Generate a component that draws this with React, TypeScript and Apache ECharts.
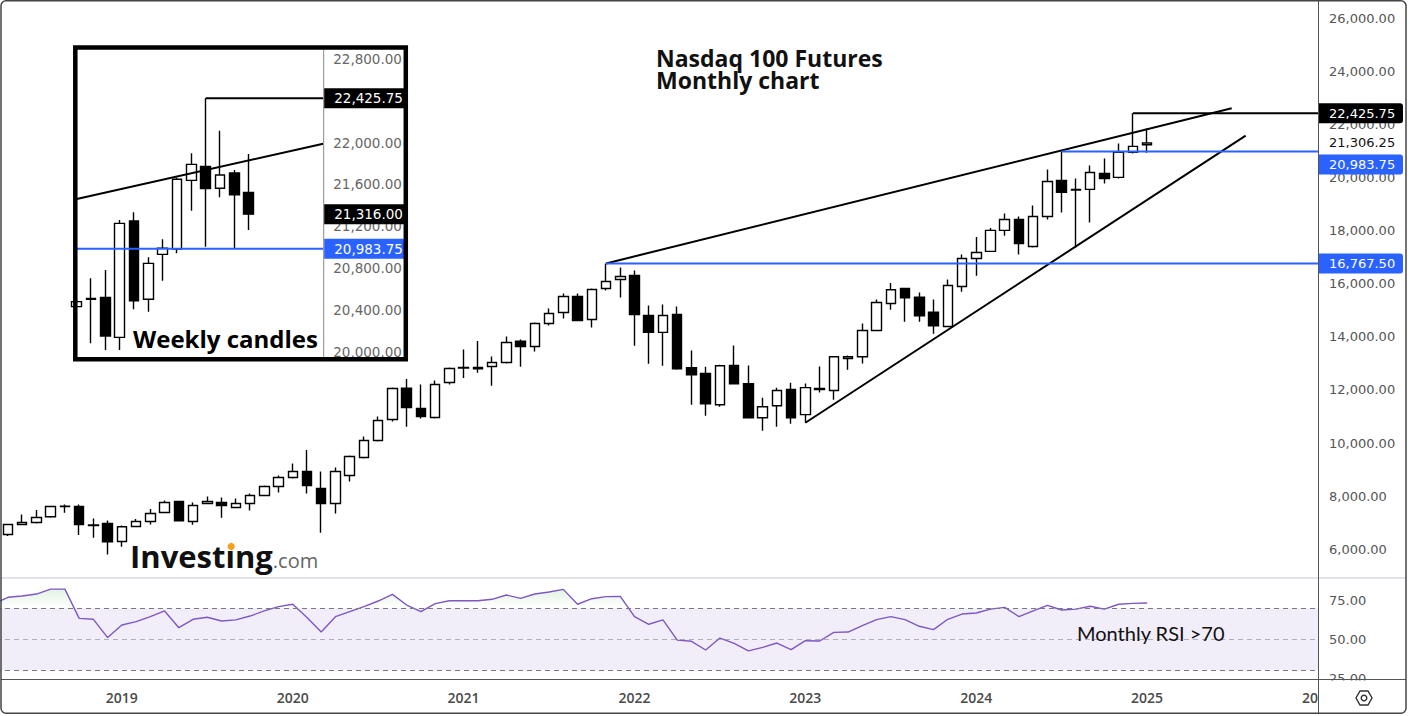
import React, { useEffect, useRef } from "react";
import * as echarts from "echarts";

// ---------------- DATA ----------------
const MM = ["01", "02", "03", "04", "05", "06", "07", "08", "09", "10", "11", "12"];
const months: string[] = [
  "2018-05", "2018-06", "2018-07", "2018-08", "2018-09", "2018-10", "2018-11", "2018-12",
  ...["2019", "2020", "2021", "2022", "2023", "2024"].flatMap((y) => MM.map((m) => `${y}-${m}`)),
  "2025-01",
];

const opens = [
  6556, 6933, 7009, 7222, 7611, 7611, 6910, 6971,
  6293, 6858, 7046, 7385, 7800, 7046, 7725, 7762, 7574, 7725, 8026, 8365,
  8704, 8930, 8290, 7725, 8780, 9458, 10098, 10890, 12070, 11304, 10965, 12283,
  12830, 12849, 12886, 13037, 13841, 13640, 14507, 14921, 15524, 14657, 15825, 16164,
  16315, 14808, 14168, 14846, 12836, 12622, 11442, 12924, 12233, 10952, 11404, 12020,
  11070, 12020, 11982, 13188, 13251, 14243, 15260, 15825, 15499, 14934, 14394, 15900,
  16956, 17220, 18011, 18425, 17408, 18538, 19895, 19530, 19556, 20159, 20008, 20950,
  21240,
];
const closes = [
  6933, 7009, 7197, 7611, 7625, 6933, 6896, 6280,
  6845, 7046, 7348, 7762, 7071, 7649, 7800, 7649, 7725, 8026, 8365, 8704,
  8930, 8403, 7725, 8930, 9495, 10098, 10852, 12058, 11341, 11002, 12208, 12811,
  12849, 12798, 13037, 13791, 13640, 14507, 14883, 15524, 14620, 15788, 16089, 16277,
  14846, 14168, 14808, 12798, 12572, 11480, 12911, 12233, 10952, 11366, 11982, 10952,
  12090, 12058, 13251, 13251, 14243, 15298, 15775, 15474, 14796, 14419, 15938, 16956,
  17182, 18011, 18425, 17521, 18538, 19857, 19443, 19556, 20196, 19970, 20950, 21176,
  21306.25,
];
const lows = [
  6494, 6900, 6971, 7184, 7373, 6531, 6431, 5803,
  6092, 6833, 6933, 7385, 7060, 6921, 7700, 7184, 7560, 7461, 8000, 8139,
  8666, 8101, 6619, 7348, 8553, 9420, 10061, 10814, 10613, 10927, 10927, 12208,
  12447, 12648, 12158, 13000, 12874, 13451, 14431, 14695, 14620, 14356, 15750, 15486,
  13665, 12987, 12911, 12761, 11442, 11027, 11366, 12233, 10952, 10462, 10613, 10726,
  10766, 11900, 11630, 12761, 13000, 14243, 15022, 14570, 14570, 14117, 14394, 15700,
  16303, 17220, 17810, 17107, 17370, 18425, 18689, 17370, 18312, 19782, 19970, 20912,
  20937,
];
const highs = [
  6950, 7310, 7473, 7636, 7687, 7687, 7159, 7084,
  6896, 7134, 7511, 7838, 7810, 7762, 7988, 7951, 7913, 8101, 8403, 8780,
  9232, 9734, 8930, 9081, 9533, 10249, 11003, 12095, 12409, 12208, 12359, 12849,
  13527, 13841, 13263, 14017, 13904, 14544, 15072, 15637, 15637, 15825, 16767.5, 16617,
  16503, 15185, 15222, 15147, 13489, 12874, 12949, 13678, 12924, 11706, 12082, 12271,
  12246, 12887, 13251, 13301, 14507, 15411, 16026, 15825, 15675, 15411, 16164, 17107,
  17760, 18099, 18651, 18538, 18953, 20309, 20983.75, 19970, 20460, 20724, 21289, 22425.75,
  21854,
];

const rsiMonths = ["2018-04", ...months];
const rsiValues = [
  72.8,
  77.1, 77.9, 79.2, 82.4, 82.4, 63.5, 62.9, 51.1,
  59.2, 61.4, 64.6, 68.3, 57.5, 62.9, 64.2, 61.8, 62.5, 65.0, 68.3, 71.1,
  72.6, 64.0, 54.7, 64.6, 67.8, 71.1, 74.7, 79.0, 72.1, 67.8, 73.0, 74.9,
  74.9, 74.9, 75.8, 78.6, 76.4, 79.2, 80.5, 82.2, 72.6, 76.2, 77.5, 77.7,
  64.6, 59.7, 62.5, 49.5, 48.7, 43.1, 50.8, 47.4, 42.5, 44.8, 47.6, 43.3,
  49.1, 48.9, 54.5, 54.7, 58.8, 62.7, 64.6, 62.7, 58.4, 56.2, 62.9, 66.3,
  67.0, 69.5, 70.6, 64.6, 68.3, 71.9, 68.9, 69.5, 71.3, 69.5, 72.6, 73.2,
  73.4,
];
const rsiBands = [70, 50, 30];

// weekly inset
const weeks = [
  "2024-10-14", "2024-10-21", "2024-10-28", "2024-11-04", "2024-11-11", "2024-11-18", "2024-11-25",
  "2024-12-02", "2024-12-09", "2024-12-16", "2024-12-23", "2024-12-30", "2025-01-06",
];
const wOpens = [20431, 20501, 20520, 20137, 21250, 20501, 20931, 20982, 21639, 21773, 21563, 21709, 21524];
const wCloses = [20479, 20510, 20150, 21228, 20488, 20845, 20989, 21649, 21792, 21560, 21690, 21502, 21316];
const wLows = [20420, 20080, 20016, 20016, 20405, 20383, 20679, 20941, 21349, 21005, 21477, 20983.75, 21164];
const wHighs = [20500, 20702, 20781, 21260, 21333, 20903, 21075, 21665, 21898, 22425.75, 22114, 21738, 21891];

// drawings (data coordinates: x = months since Jan 2019 / week index)
const upperTrend = [[34, 16767.5], [77.94, 22613]];
const lowerTrend = [[48, 10766], [78.92, 21580]];
const athLine = [[71, 22425.75], [84, 22425.75]];
const julHighLine = [[66, 20983.75], [84, 20983.75]];
const nov21Line = [[34, 16767.5], [84, 16767.5]];
const insetTrend = [[0, 21461], [17.2, 21990]];
const insetAth = [[9, 22425.75], [17.2, 22425.75]];
const insetSupport = [[0, 20983.75], [17.2, 20983.75]];

const mainTags = [
  { value: 22425.75, bg: "#000000" },
  { value: 20983.75, bg: "#2962ff", shift: 13 },
  { value: 16767.5, bg: "#2962ff" },
];
const lastPrice = 21306.25;
const insetTags = [
  { value: 22425.75, bg: "#000000" },
  { value: 21316, bg: "#000000" },
  { value: 20983.75, bg: "#2962ff" },
];
const titleLines = ["Nasdaq 100 Futures", "Monthly chart"];

// ---------------- LAYOUT ----------------
const PLOT_LEFT = -49;
const PLOT_W = 1367; // -12 .. 84 months
const MAIN_TOP = -34.7;
const MAIN_H = 637;
const RSI_TOP = 561.8;
const RSI_H = 155;
const TIME_TOP = 578;
const TIME_H = 101;
const INSET = { left: 76.7, top: 17.2, width: 246.5, height: 376.3 };

const monthIdx = (s: string) => {
  const [y, m] = s.split("-").map(Number);
  return (y - 2019) * 12 + (m - 1);
};
const fmt = (v: number) =>
  v.toLocaleString("en-US", { minimumFractionDigits: 2, maximumFractionDigits: 2 });

const PRICE_FONT = "DejaVu Sans";
const LOGO_FONT = 'bold 31px "Open Sans"';
const candleStyle = {
  color: "#ffffff",
  color0: "#000000",
  borderColor: "#000000",
  borderColor0: "#000000",
  borderColorDoji: "#000000",
  borderWidth: 1.4,
};
const lineSeries = (name: string, data: number[][], color: string, xi: number, width = 2) => ({
  name,
  type: "line",
  xAxisIndex: xi,
  yAxisIndex: xi,
  data,
  symbol: "none",
  silent: true,
  z: 4,
  lineStyle: { color, width },
});

function buildOption(): any {
  const hiddenAxisBits = {
    axisLine: { show: false },
    axisTick: { show: false },
    splitLine: { show: false },
  };
  const gridCommon = { containLabel: false, outerBoundsMode: "none" };
  return {
    animation: false,
    backgroundColor: "#ffffff",
    textStyle: { fontFamily: PRICE_FONT },
    tooltip: { show: false },
    grid: [
      { ...gridCommon, left: PLOT_LEFT, width: PLOT_W, top: MAIN_TOP, height: MAIN_H },
      { ...gridCommon, ...INSET },
      { ...gridCommon, left: PLOT_LEFT, width: PLOT_W, top: RSI_TOP, height: RSI_H },
      { ...gridCommon, left: PLOT_LEFT, width: PLOT_W, top: TIME_TOP, height: TIME_H },
    ],
    xAxis: [
      { gridIndex: 0, type: "value", min: -12, max: 84, show: false },
      { gridIndex: 1, type: "value", min: 0, max: 17.2, show: false },
      { gridIndex: 2, type: "value", min: -12, max: 84, show: false },
      {
        gridIndex: 3,
        type: "value",
        min: -12,
        max: 84,
        interval: 12,
        position: "bottom",
        ...hiddenAxisBits,
        axisLabel: {
          margin: 11,
          color: "#4a4a4a",
          fontFamily: "Open Sans",
          fontWeight: 600,
          fontSize: 14,
          formatter: (v: number) => (v >= 0 && v % 12 === 0 ? String(2019 + v / 12) : ""),
        },
      },
    ],
    yAxis: [
      {
        gridIndex: 0,
        type: "value",
        min: 4000,
        max: 28000,
        interval: 2000,
        position: "right",
        ...hiddenAxisBits,
        axisLabel: {
          margin: 11,
          color: "#555555",
          fontFamily: PRICE_FONT,
          fontSize: 13,
          formatter: (v: number) => (v >= 6000 && v <= 26000 ? fmt(v) : ""),
        },
      },
      {
        gridIndex: 1,
        type: "value",
        min: 19600,
        max: 23200,
        interval: 400,
        position: "right",
        ...hiddenAxisBits,
        axisLabel: {
          margin: 10,
          color: "#666666",
          fontFamily: PRICE_FONT,
          fontSize: 13.5,
          formatter: (v: number) => (v >= 20000 && v <= 22800 ? fmt(v) : ""),
        },
      },
      {
        gridIndex: 2,
        type: "value",
        min: 0,
        max: 100,
        interval: 25,
        position: "right",
        ...hiddenAxisBits,
        axisLabel: {
          margin: 11,
          color: "#555555",
          fontFamily: PRICE_FONT,
          fontSize: 13,
          formatter: (v: number) => (v >= 25 && v <= 75 ? v.toFixed(2) : ""),
        },
      },
      { gridIndex: 3, type: "value", show: false },
    ],
    series: [
      {
        name: "NQ monthly",
        type: "candlestick",
        xAxisIndex: 0,
        yAxisIndex: 0,
        barWidth: 10,
        silent: true,
        encode: { x: 0, y: [1, 2, 3, 4] },
        data: months.map((m, i) => [monthIdx(m), opens[i], closes[i], lows[i], highs[i]]),
        itemStyle: candleStyle,
      },
      lineSeries("upper trend", upperTrend, "#000000", 0),
      lineSeries("lower trend", lowerTrend, "#000000", 0),
      lineSeries("ath", athLine, "#000000", 0),
      lineSeries("jul high", julHighLine, "#2962ff", 0),
      lineSeries("nov21 high", nov21Line, "#2962ff", 0),
      {
        name: "NQ weekly",
        type: "candlestick",
        xAxisIndex: 1,
        yAxisIndex: 1,
        barWidth: 10,
        silent: true,
        encode: { x: 0, y: [1, 2, 3, 4] },
        data: weeks.map((_, i) => [i, wOpens[i], wCloses[i], wLows[i], wHighs[i]]),
        itemStyle: candleStyle,
      },
      lineSeries("inset trend", insetTrend, "#000000", 1),
      lineSeries("inset ath", insetAth, "#000000", 1),
      lineSeries("inset support", insetSupport, "#2962ff", 1),
      {
        name: "RSI fill",
        type: "line",
        xAxisIndex: 2,
        yAxisIndex: 2,
        symbol: "none",
        silent: true,
        z: 1,
        data: rsiMonths.map((m, i) => [monthIdx(m), rsiValues[i]]),
        lineStyle: { width: 0, opacity: 0 },
        areaStyle: {
          origin: "start",
          color: {
            type: "linear",
            global: true,
            x: 0,
            y: RSI_TOP,
            x2: 0,
            y2: RSI_TOP + RSI_H * 0.3,
            colorStops: [
              { offset: 0, color: "rgba(76,175,80,0.55)" },
              { offset: 1, color: "rgba(76,175,80,0)" },
            ],
          },
        },
        markArea: {
          silent: true,
          itemStyle: { color: "rgba(126,87,194,0.1)" },
          data: [[{ coord: [-12, rsiBands[2]] }, { coord: [84, rsiBands[0]] }]],
        },
      },
      {
        name: "RSI",
        type: "line",
        xAxisIndex: 2,
        yAxisIndex: 2,
        symbol: "none",
        silent: true,
        z: 3,
        data: rsiMonths.map((m, i) => [monthIdx(m), rsiValues[i]]),
        lineStyle: { color: "#7e57c2", width: 1.4 },
        markLine: {
          silent: true,
          symbol: ["none", "none"],
          label: { show: false },
          lineStyle: { type: [5, 4], color: "#787b86", width: 1 },
          data: rsiBands.map((b) =>
            b === 50
              ? { yAxis: b, lineStyle: { color: "rgba(120,123,134,0.55)", type: [5, 4], width: 1 } }
              : { yAxis: b }
          ),
        },
      },
    ],
  };
}

function textEl(x: number, y: number, text: string, font: string, fill: string, z = 100, align = "left") {
  return {
    type: "text",
    x,
    y,
    z,
    silent: true,
    style: { text, font, fill, textAlign: align, textVerticalAlign: "middle", verticalAlign: "middle" },
  };
}

function measure(text: string, font: string): number {
  const c = document.createElement("canvas").getContext("2d");
  if (!c) return 0;
  c.font = font;
  return c.measureText(text).width;
}

function buildGraphics(gx: (g: number, v: number) => number, gy: (g: number, v: number) => number): any[] {
  const els: any[] = [];
  const priceRight = gx(0, 84);
  const insetRight = gx(1, 17.2);
  const mainFont = `13px "${PRICE_FONT}"`;
  const insetFont = `13.5px "${PRICE_FONT}"`;

  // pane separators and frame
  els.push({ type: "line", z: 105, silent: true, shape: { x1: 1, y1: 578, x2: 1406, y2: 578 }, style: { stroke: "#d9d9e3", lineWidth: 1.5 } });
  els.push({ type: "line", z: 105, silent: true, shape: { x1: 1, y1: 679.5, x2: 1406, y2: 679.5 }, style: { stroke: "#555555", lineWidth: 1.2 } });
  els.push({ type: "line", z: 105, silent: true, shape: { x1: priceRight + 0.5, y1: 1, x2: priceRight + 0.5, y2: 713 }, style: { stroke: "#555555", lineWidth: 1 } });
  els.push({ type: "rect", z: 90, silent: true, shape: { x: priceRight + 1, y: 680.5, width: 87, height: 31.5 }, style: { fill: "#ffffff" } });
  els.push({ type: "rect", z: 110, silent: true, shape: { x: 1, y: 0.75, width: 1405, height: 712.5, r: 5 }, style: { fill: "none", stroke: "#444444", lineWidth: 1.5 } });

  // settings icon
  const cx = 1364, cy = 698;
  els.push({
    type: "polygon", z: 106, silent: true,
    shape: { points: [[cx - 8, cy], [cx - 4, cy - 7], [cx + 4, cy - 7], [cx + 8, cy], [cx + 4, cy + 7], [cx - 4, cy + 7]] },
    style: { fill: "none", stroke: "#333333", lineWidth: 1.4 },
  });
  els.push({ type: "circle", z: 106, silent: true, shape: { cx, cy, r: 2.8 }, style: { fill: "none", stroke: "#333333", lineWidth: 1.4 } });

  // main price tags
  mainTags.forEach((t) => {
    const yc = gy(0, t.value) + (t.shift || 0);
    els.push({ type: "rect", z: 100, silent: true, shape: { x: priceRight + 1, y: yc - 10, width: 84, height: 20, r: [0, 3, 3, 0] }, style: { fill: t.bg } });
    els.push(textEl(priceRight + 11, yc, fmt(t.value), mainFont, "#ffffff", 101));
  });
  els.push(textEl(priceRight + 11, gy(0, lastPrice), fmt(lastPrice), mainFont, "#111111", 101));

  // inset frame, separator, tags
  els.push({ type: "line", z: 95, silent: true, shape: { x1: insetRight + 0.5, y1: 50, x2: insetRight + 0.5, y2: 357 }, style: { stroke: "#888888", lineWidth: 1 } });
  insetTags.forEach((t) => {
    const yc = gy(1, t.value);
    els.push({ type: "rect", z: 100, silent: true, shape: { x: insetRight + 1, y: yc - 10, width: 80, height: 20 }, style: { fill: t.bg } });
    els.push(textEl(insetRight + 11, yc, fmt(t.value), insetFont, "#ffffff", 101));
  });
  els.push({ type: "rect", z: 108, silent: true, shape: { x: 75.3, y: 47.5, width: 330.5, height: 311.7 }, style: { fill: "none", stroke: "#000000", lineWidth: 4.5 } });
  els.push(textEl(133, 338.5, "Weekly candles", 'bold 24px "Open Sans"', "#000000", 102));

  // titles
  titleLines.forEach((t, i) => {
    els.push(textEl(656, 58.3 + i * 22, t, 'bold 23px "Open Sans"', "#111111", 102));
  });
  els.push(textEl(1077, 632.7, "Monthly RSI >70", '20px "Lato"', "#111111", 102));

  // watermark logo (dotless i + orange dot)
  const logoX = 130;
  const logoText = "Invest\u0131ng";
  els.push(textEl(logoX, 556, logoText, LOGO_FONT, "#111111", 50));
  const logoW = measure(logoText, LOGO_FONT) || 142;
  els.push(textEl(logoX + logoW, 560, ".com", '20px "Open Sans"', "#666666", 50));
  const dotX = logoX + (measure("Invest", LOGO_FONT) || 96) + (measure("\u0131", LOGO_FONT) || 10) / 2;
  els.push({ type: "circle", z: 51, silent: true, shape: { cx: dotX + 1, cy: 546.5, r: 3.6 }, style: { fill: "#f5a01a" } });

  return els;
}

export default function App() {
  const ref = useRef<HTMLDivElement>(null);
  useEffect(() => {
    document.body.style.margin = "0";
    const chart = echarts.init(ref.current!, null, { renderer: "svg" });
    chart.setOption(buildOption());
    const gy = (g: number, v: number) => (chart.convertToPixel({ gridIndex: g } as any, [0, v]) as number[])[1];
    const gx = (g: number, v: number) => (chart.convertToPixel({ gridIndex: g } as any, [v, 0]) as number[])[0];
    chart.setOption({ graphic: buildGraphics(gx, gy) });
    return () => chart.dispose();
  }, []);
  return <div ref={ref} style={{ width: 1410, height: 716 }} />;
}
